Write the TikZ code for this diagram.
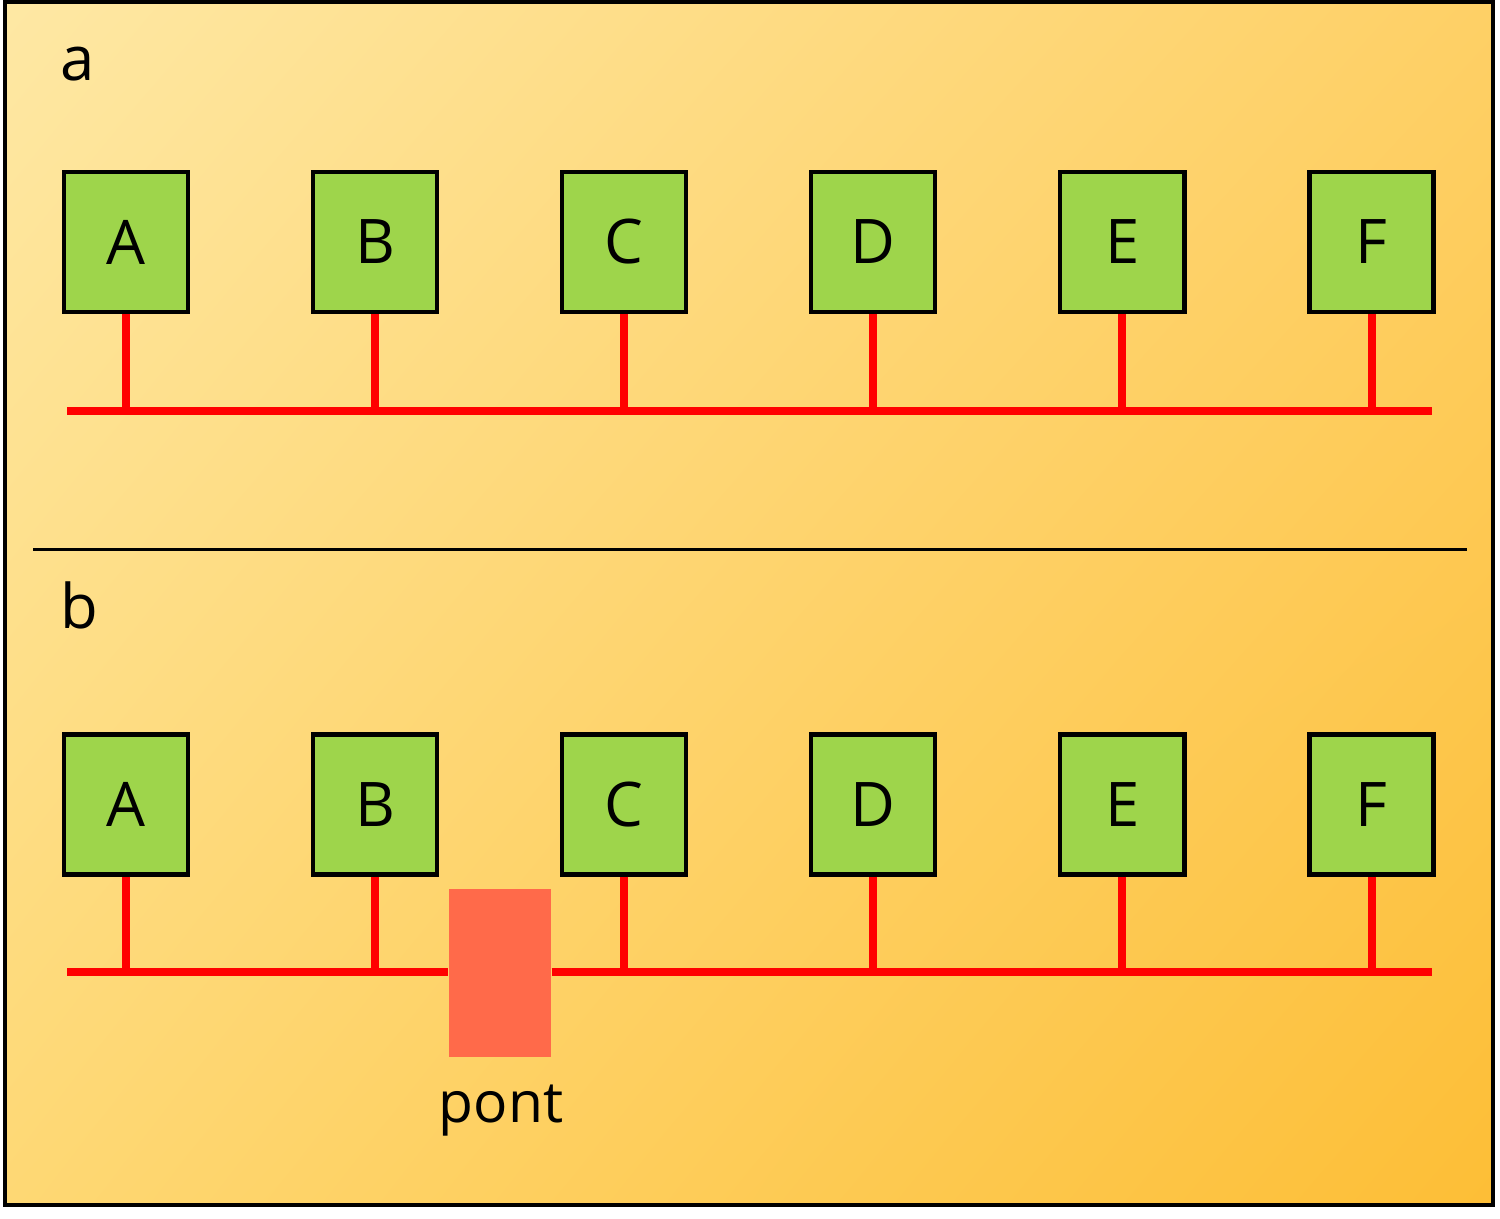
\documentclass[tikz,border=0pt]{standalone}
\usepackage{fontspec}
\setmainfont{Open Sans}
\usetikzlibrary{positioning,shadings}

\definecolor{stationgreen}{HTML}{9ED54B}
\definecolor{busred}{HTML}{FF0000}
\definecolor{pontred}{HTML}{FF6A4A}
\definecolor{bgtopleft}{HTML}{FEE8A4}
\definecolor{bgtopright}{HTML}{FED066}
\definecolor{bgbottomleft}{HTML}{FED874}
\definecolor{bgbottomright}{HTML}{FDBE36}

\tikzset{
  station/.style={draw=black, line width=1.2pt, fill=stationgreen,
    minimum width=1.24cm, minimum height=1.40cm, inner sep=0pt},
  bus/.style={draw=busred, line width=0.08cm},
  pontbox/.style={fill=pontred, minimum width=1.02cm, minimum height=1.68cm, inner sep=0pt},
  panellabel/.style={anchor=base west, inner sep=0pt}
}

\begin{document}
\begin{tikzpicture}[x=0.01cm, y=-0.01cm, every node/.style={font=\fontsize{17.5}{21}\selectfont}]
  \useasboundingbox (0,0) rectangle (1500,1218);

  % -- Background and frame
  \shade[upper left=bgtopleft, upper right=bgtopright,
         lower left=bgbottomleft, lower right=bgbottomright]
    (5,2) rectangle (1493,1205);
  \draw[line width=0.04cm] (5,2) rectangle (1493,1205);

  % -- Divider between the two panels
  \coordinate (divL) at (33,549);
  \coordinate (divR) at (1467,549);
  \draw[line width=0.03cm] (divL) -- (divR);

  % ==================================================
  % Panel a (one bus, six stations)
  % ==================================================
  \begin{scope}
    \node[panellabel] (labela) at (60,80) {a};
    \foreach \name [count=\i from 0] in {A,B,C,D,E,F}
      \node[station] (a\name) at ({126+249.1*\i},242) {\name};
    % -- Bus
    \coordinate (abusL) at (67,410.5);
    \coordinate (abusR) at (1432,410.5);
    \draw[bus] (abusL) -- (abusR);
    % -- Stems
    \foreach \name in {A,B,C,D,E,F}
      \draw[bus] (a\name.south) -- (a\name.south |- abusL);
  \end{scope}

  % ==================================================
  % Panel b (bus split by a bridge)
  % ==================================================
  \begin{scope}
    \node[panellabel] (labelb) at (60,628) {b};
    \foreach \name [count=\i from 0] in {A,B,C,D,E,F}
      \node[station] (b\name) at ({126+249.1*\i},804.5) {\name};
    % -- Bridge
    \node[pontbox] (pont) at (500,973) {};
    \node[anchor=base, font=\fontsize{16.2}{19}\selectfont] (pontlabel) at (501,1122) {pont};
    % -- Bus, left and right of the bridge
    \coordinate (bbusL) at (67,972);
    \coordinate (bbusR) at (1432,972);
    \draw[bus] (bbusL) -- (bbusL -| pont.west);
    \draw[bus] (bbusR -| pont.east) -- (bbusR);
    % -- Stems
    \foreach \name in {A,B,C,D,E,F}
      \draw[bus] (b\name.south) -- (b\name.south |- bbusL);
  \end{scope}

\end{tikzpicture}
\end{document}
